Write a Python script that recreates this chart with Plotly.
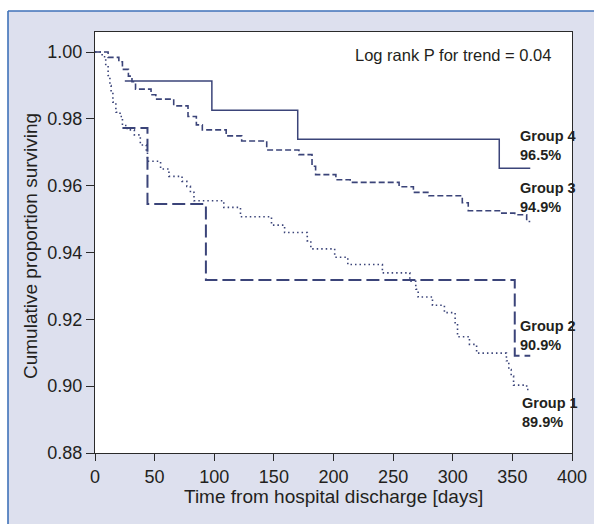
import plotly.graph_objects as go

# ---------------- data ----------------
g1_days = [0, 6, 9, 11, 12.5, 13.5, 15, 17.5, 21, 23, 27, 33, 38, 43, 44, 55, 62, 73, 77, 80, 83,
           108, 122, 148, 159, 178, 181, 201, 212, 241, 264, 269, 271, 283, 293, 302, 304, 314,
           320, 345, 347, 349, 351, 362, 365]
g1_surv = [1.0, 0.9986, 0.996, 0.993, 0.990, 0.988, 0.985, 0.982, 0.9807, 0.978, 0.9767, 0.9752,
           0.9722, 0.970, 0.9673, 0.965, 0.9628, 0.9613, 0.9598, 0.958, 0.9555, 0.9535, 0.9507,
           0.9482, 0.946, 0.9435, 0.9411, 0.9386, 0.9364, 0.9339, 0.9314, 0.929, 0.9267, 0.9242,
           0.922, 0.919, 0.9148, 0.9125, 0.9099, 0.9076, 0.905, 0.903, 0.9003, 0.899, 0.899]

g2_days = [23, 44, 93, 352, 365]
g2_surv = [0.9773, 0.9545, 0.9318, 0.9091, 0.9091]

g3_days = [0, 11, 20, 23, 28, 31, 34, 47, 51, 66, 78, 85, 90, 110, 123, 144, 171, 182, 185, 202,
           214, 255, 267, 280, 308, 313, 340, 352, 362, 365]
g3_surv = [1.0, 0.9984, 0.9971, 0.9948, 0.9928, 0.9911, 0.9889, 0.9872, 0.9859, 0.9839, 0.9807,
           0.9782, 0.9767, 0.9749, 0.9734, 0.9707, 0.9693, 0.9658, 0.9633, 0.9618, 0.961, 0.9597,
           0.958, 0.957, 0.9549, 0.9525, 0.9518, 0.9513, 0.9493, 0.9493]

g4_days = [25, 98, 170, 339, 365]
g4_surv = [0.9913, 0.9826, 0.9739, 0.9652, 0.9652]

group_names = ["Group 1", "Group 2", "Group 3", "Group 4"]
group_final = ["89.9%", "90.9%", "94.9%", "96.5%"]

x_ticks = [0, 50, 100, 150, 200, 250, 300, 350, 400]
y_ticks = [0.88, 0.90, 0.92, 0.94, 0.96, 0.98, 1.00]

x_title = "Time from hospital discharge [days]"
y_title = "Cumulative proportion surviving"
stat_text = "Log rank P for trend = 0.04"

# ---------------- figure ----------------
W, H = 594, 524
ML, MR, MT, MB = 95, 22, 32, 71
PW, PH = W - ML - MR, H - MT - MB

LINE = "#3b4479"
TXT = "#231f20"
BG = "#dde0ee"
BORDER = "#3f72b8"
FONT = "Liberation Sans, Arial, sans-serif"


def px_x(px):
    return (px - ML) / PW


def px_y(py):
    return (H - MB - py) / PH


fig = go.Figure()

styles = [
    dict(days=g1_days, surv=g1_surv, dash="1.5px,3px", width=1.6),
    dict(days=g2_days, surv=g2_surv, dash="13px,5px", width=2.0),
    dict(days=g3_days, surv=g3_surv, dash="6px,3px", width=1.6),
    dict(days=g4_days, surv=g4_surv, dash="solid", width=1.5),
]
for name, st in zip(group_names, styles):
    fig.add_trace(go.Scatter(
        x=st["days"], y=st["surv"], mode="lines", name=name,
        line=dict(color=LINE, width=st["width"], dash=st["dash"], shape="hv"),
        showlegend=False, hoverinfo="skip",
    ))

# group labels at the curve ends (order: group1..group4)
label_pos = [(356.4, 0.8920), (354.5, 0.9152), (354.5, 0.9565), (354.5, 0.9720)]
annotations = []
for name, fin, (lx, ly) in zip(group_names, group_final, label_pos):
    annotations.append(dict(
        x=lx, y=ly, xref="x", yref="y", xanchor="left", yanchor="middle",
        text=f"<b>{name}<br>{fin}</b>", showarrow=False, align="left",
        font=dict(family=FONT, size=14.5, color=TXT),
    ))

annotations.append(dict(
    x=384, y=0.9991, xref="x", yref="y", xanchor="right", yanchor="middle",
    text=stat_text, showarrow=False, font=dict(family=FONT, size=16.5, color=TXT),
))
annotations.append(dict(
    x=px_x(333.5), y=px_y(497), xref="paper", yref="paper", xanchor="center", yanchor="middle",
    text=x_title, showarrow=False, font=dict(family=FONT, size=19, color=TXT),
))
annotations.append(dict(
    x=px_x(30), y=px_y(246), xref="paper", yref="paper", xanchor="center", yanchor="middle",
    text=y_title, showarrow=False, textangle=-90, font=dict(family=FONT, size=19, color=TXT),
))

shapes = [
    # white strips outside the blue frame
    dict(type="rect", xref="paper", yref="paper", x0=px_x(-5), x1=px_x(W + 5), y0=px_y(11), y1=px_y(-5),
         fillcolor="white", line=dict(width=0), layer="below"),
    dict(type="rect", xref="paper", yref="paper", x0=px_x(-5), x1=px_x(8), y0=px_y(H + 5), y1=px_y(-5),
         fillcolor="white", line=dict(width=0), layer="below"),
    # blue frame lines (top and left)
    dict(type="line", xref="paper", yref="paper", x0=px_x(8), x1=px_x(W + 5), y0=px_y(11), y1=px_y(11),
         line=dict(color=BORDER, width=1.6)),
    dict(type="line", xref="paper", yref="paper", x0=px_x(8), x1=px_x(8), y0=px_y(11), y1=px_y(H + 5),
         line=dict(color=BORDER, width=1.6)),
]

fig.update_layout(
    width=W, height=H,
    margin=dict(l=ML, r=MR, t=MT, b=MB, autoexpand=False),
    paper_bgcolor=BG, plot_bgcolor="white",
    annotations=annotations, shapes=shapes,
    font=dict(family=FONT, color=TXT),
)
fig.update_xaxes(
    range=[0, 400], tickvals=x_ticks, ticktext=[str(v) for v in x_ticks],
    showgrid=False, zeroline=False, showline=True, linecolor="#2a2a2a", linewidth=1.2, mirror=True,
    ticks="outside", ticklen=7, tickwidth=1, tickcolor="#2a2a2a",
    tickfont=dict(family=FONT, size=18, color=TXT),
)
fig.update_yaxes(
    range=[0.88, 1.006], tickvals=y_ticks, ticktext=[f"{v:.2f}" for v in y_ticks],
    showgrid=False, zeroline=False, showline=True, linecolor="#2a2a2a", linewidth=1.2, mirror=True,
    ticks="outside", ticklen=8, tickwidth=1, tickcolor="#2a2a2a",
    tickfont=dict(family=FONT, size=18, color=TXT),
)

fig.write_html(
    "out.html",
    config={"displayModeBar": False},
    post_script="document.body.style.margin='0px';document.body.style.overflow='hidden';",
)
